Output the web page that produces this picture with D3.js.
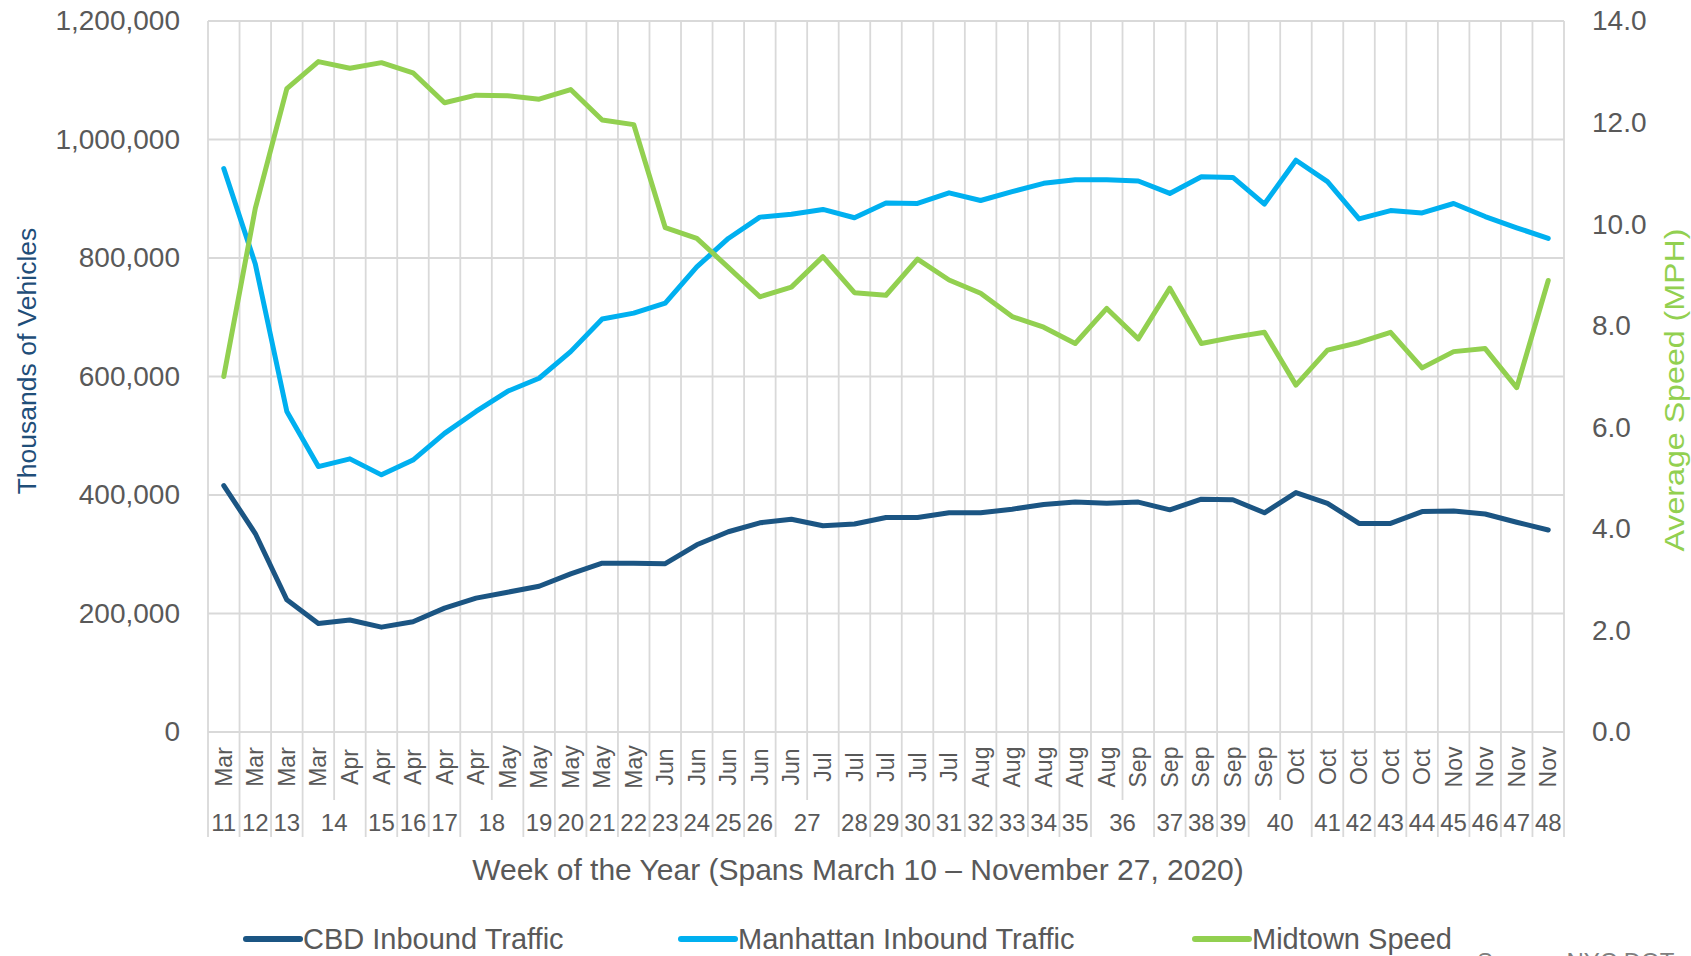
<!DOCTYPE html>
<html>
<head>
<meta charset="utf-8">
<script src="https://cdn.jsdelivr.net/npm/d3@7"></script>
<style>
    body { margin: 0; background: #fff; }
    svg { display: block; font-family: "Liberation Sans", Arial, sans-serif; }
</style>
</head>
<body>
<div id="chart"></div>
<script>
// Category labels (two level axis: month over week number)
const months = ["Mar", "Mar", "Mar", "Mar", "Apr", "Apr", "Apr", "Apr", "Apr", "May", "May", "May", "May", "May",
    "Jun", "Jun", "Jun", "Jun", "Jun", "Jul", "Jul", "Jul", "Jul", "Jul", "Aug", "Aug", "Aug", "Aug", "Aug",
    "Sep", "Sep", "Sep", "Sep", "Sep", "Oct", "Oct", "Oct", "Oct", "Oct", "Nov", "Nov", "Nov", "Nov"];
const weeks = [11, 12, 13, 14, 14, 15, 16, 17, 18, 18, 19, 20, 21, 22, 23, 24, 25, 26, 27, 27, 28, 29, 30, 31,
    32, 33, 34, 35, 36, 36, 37, 38, 39, 40, 40, 41, 42, 43, 44, 45, 46, 47, 48];

// Series values
const cbdInbound = [416000, 335000, 223000, 183000, 189000, 177000, 186000, 209000, 226000, 236000,
    246000, 267000, 285000, 285000, 284000, 316000, 338000, 353000, 359000, 348000,
    351000, 362000, 362000, 370000, 370000, 376000, 384000, 388000, 386000, 388000,
    375000, 393000, 392000, 370000, 404000, 386000, 352000, 352000, 372000, 373000,
    368000, 354000, 341000];
const manhattanInbound = [951000, 790000, 541000, 448000, 461000, 434000, 459000, 504000, 541000, 575000,
    597000, 642000, 697000, 707000, 724000, 785000, 833000, 869000, 874000, 882000,
    868000, 893000, 892000, 910000, 897000, 912000, 926000, 932000, 932000, 930000,
    909000, 937000, 936000, 891000, 965000, 929000, 866000, 880000, 876000, 892000,
    870000, 851000, 833000];
const midtownSpeed = [7.0, 10.31, 12.67, 13.2, 13.07, 13.18, 12.98, 12.39, 12.54, 12.53,
    12.46, 12.65, 12.05, 11.96, 9.93, 9.72, 9.15, 8.57, 8.76, 9.36,
    8.65, 8.6, 9.31, 8.9, 8.64, 8.18, 7.97, 7.65, 8.34, 7.74,
    8.74, 7.65, 7.77, 7.87, 6.83, 7.52, 7.67, 7.87, 7.17, 7.49,
    7.55, 6.78, 8.89];

// Axis ticks
const leftTicks = [0, 200000, 400000, 600000, 800000, 1000000, 1200000];
const rightTicks = [0, 2, 4, 6, 8, 10, 12, 14];

const seriesNames = ["CBD Inbound Traffic", "Manhattan Inbound Traffic", "Midtown Speed"];
const seriesColors = ["#1B5583", "#00B0F0", "#92D050"];

const width = 1691, height = 956;
const plot = { left: 208, right: 1564, top: 21, bottom: 732 };
const monthRowBottom = 800, weekRowBottom = 837;
const textColor = "#595959", gridColor = "#D9D9D9";

const svg = d3.select("#chart")
    .append("svg")
    .attr("width", width)
    .attr("height", height);

// Scales
const x = d3.scaleBand()
    .domain(d3.range(months.length))
    .range([plot.left, plot.right]);
const cx = i => x(i) + x.bandwidth() / 2;
const yLeft = d3.scaleLinear().domain([0, 1200000]).range([plot.bottom, plot.top]);
const yRight = d3.scaleLinear().domain([0, 14]).range([plot.bottom, plot.top]);

// Gridlines
const grid = svg.append("g").attr("stroke", gridColor).attr("stroke-width", 1.8);
grid.selectAll(".hgrid")
    .data(leftTicks)
    .join("line")
    .attr("x1", plot.left)
    .attr("x2", plot.right)
    .attr("y1", d => yLeft(d))
    .attr("y2", d => yLeft(d));

// every category boundary runs through the month row, week edges go on down
const boundaries = d3.range(months.length + 1);
const bx = i => i < months.length ? x(i) : plot.right;
const isGroupEdge = i => i === 0 || i === months.length || weeks[i] !== weeks[i - 1];
grid.selectAll(".vgrid")
    .data(boundaries)
    .join("line")
    .attr("x1", bx)
    .attr("x2", bx)
    .attr("y1", plot.top)
    .attr("y2", i => isGroupEdge(i) ? weekRowBottom : monthRowBottom);

// Axes (labels only)
const leftAxis = svg.append("g")
    .attr("transform", `translate(${plot.left},0)`)
    .call(d3.axisLeft(yLeft).tickValues(leftTicks).tickFormat(d3.format(",")).tickSize(0).tickPadding(28));
const rightAxis = svg.append("g")
    .attr("transform", `translate(${plot.right},0)`)
    .call(d3.axisRight(yRight).tickValues(rightTicks).tickFormat(d3.format(".1f")).tickSize(0).tickPadding(28));
[leftAxis, rightAxis].forEach(a => {
    a.select(".domain").remove();
    a.selectAll("text")
        .attr("fill", textColor)
        .style("font-size", "28px")
        .style("font-family", "'Liberation Sans', Arial, sans-serif");
});

// Month labels
svg.append("g")
    .selectAll("text")
    .data(months)
    .join("text")
    .attr("transform", (d, i) => `translate(${cx(i)},767) rotate(-90)`)
    .attr("text-anchor", "middle")
    .attr("dy", "0.35em")
    .attr("fill", textColor)
    .style("font-size", "23px")
    .text(d => d);

// Week labels, centred on each run of equal week numbers
const weekGroups = [];
weeks.forEach((w, i) => {
    const last = weekGroups[weekGroups.length - 1];
    if (last && last.week === w) last.end = i;
    else weekGroups.push({ week: w, start: i, end: i });
});
svg.append("g")
    .selectAll("text")
    .data(weekGroups)
    .join("text")
    .attr("x", d => (cx(d.start) + cx(d.end)) / 2)
    .attr("y", 823)
    .attr("dy", "0.35em")
    .attr("text-anchor", "middle")
    .attr("fill", textColor)
    .style("font-size", "24px")
    .text(d => d.week);

// Axis titles
svg.append("text")
    .attr("x", 858)
    .attr("y", 869)
    .attr("dy", "0.35em")
    .attr("text-anchor", "middle")
    .attr("fill", textColor)
    .style("font-size", "30px")
    .text("Week of the Year (Spans March 10 \u2013 November 27, 2020)");

svg.append("text")
    .attr("transform", "translate(27,361) rotate(-90)")
    .attr("dy", "0.35em")
    .attr("text-anchor", "middle")
    .attr("fill", "#1F4E79")
    .style("font-size", "26.5px")
    .text("Thousands of Vehicles");

svg.append("text")
    .attr("transform", "translate(1674,390) rotate(-90)")
    .attr("dy", "0.35em")
    .attr("text-anchor", "middle")
    .attr("fill", "#92D050")
    .attr("textLength", 323)
    .attr("lengthAdjust", "spacingAndGlyphs")
    .style("font-size", "28px")
    .text("Average Speed (MPH)");

// Lines
const lineLeft = d3.line().x((d, i) => cx(i)).y(d => yLeft(d));
const lineRight = d3.line().x((d, i) => cx(i)).y(d => yRight(d));
const series = [
    { values: cbdInbound, line: lineLeft },
    { values: manhattanInbound, line: lineLeft },
    { values: midtownSpeed, line: lineRight }
];
svg.append("g")
    .selectAll("path")
    .data(series)
    .join("path")
    .attr("fill", "none")
    .attr("stroke", (d, i) => seriesColors[i])
    .attr("stroke-width", 5)
    .attr("stroke-linejoin", "round")
    .attr("stroke-linecap", "round")
    .attr("d", d => d.line(d.values));

// Legend
const legendX = [246, 681, 1195];
const legend = svg.append("g")
    .selectAll("g")
    .data(seriesNames)
    .join("g")
    .attr("transform", (d, i) => `translate(${legendX[i]},939)`);
legend.append("line")
    .attr("x1", 0)
    .attr("x2", 54)
    .attr("stroke", (d, i) => seriesColors[i])
    .attr("stroke-width", 6)
    .attr("stroke-linecap", "round");
legend.append("text")
    .attr("x", 57)
    .attr("dy", "0.35em")
    .attr("fill", textColor)
    .style("font-size", "29px")
    .text(d => d);

// Source note, cut off by the bottom edge as in the original
svg.append("text")
    .attr("x", 1477)
    .attr("y", 970)
    .attr("fill", "#7F7F7F")
    .style("font-size", "24px")
    .text("Source: NYC DOT");
</script>
</body>
</html>
